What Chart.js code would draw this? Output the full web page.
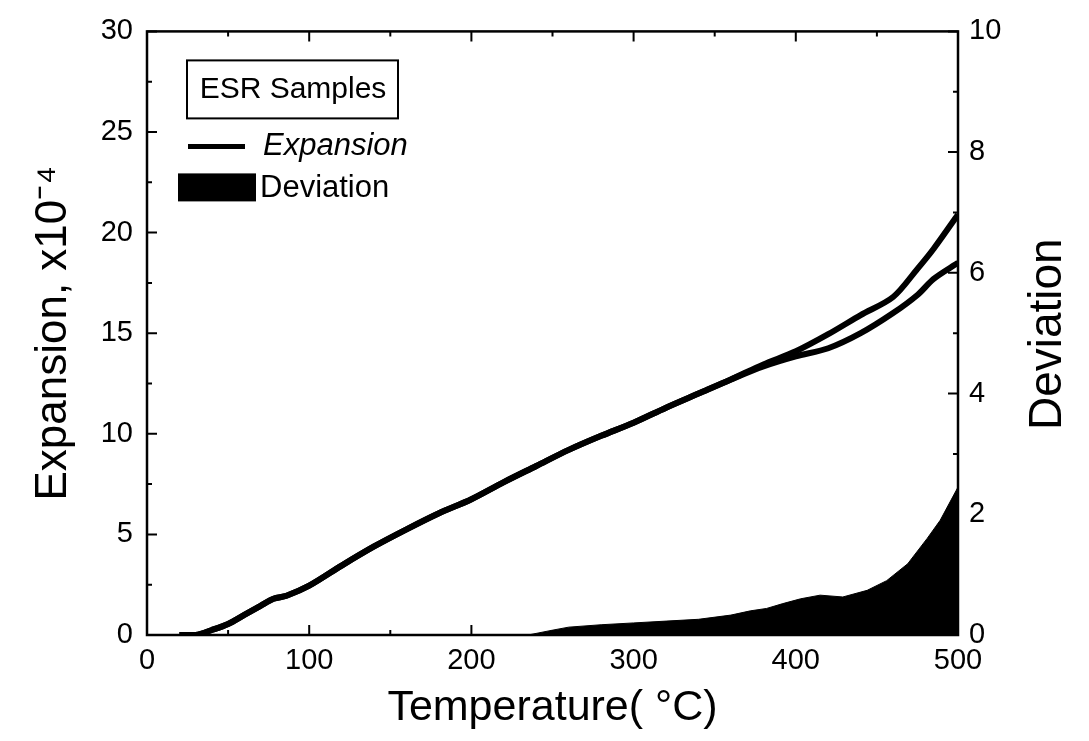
<!DOCTYPE html>
<html>
<head>
<meta charset="utf-8">
<script src="https://cdn.jsdelivr.net/npm/chart.js@4"></script>
<style>
  html, body { margin: 0; padding: 0; background: #fff; }
  #wrap { width: 1089px; height: 741px; }
</style>
</head>
<body>
<div id="wrap"><canvas id="grafico"></canvas></div>
<script>
// heating / cooling expansion curves (x10^-4) vs temperature
const tempSubida = [20, 30, 40, 50, 60, 70, 78, 86, 100, 120, 140, 160, 180, 200, 220, 240, 260, 280, 300, 320, 340, 360, 380, 400, 420, 440, 460, 475, 485, 500];
const expSubida = [0, 0, 0.25, 0.55, 1.0, 1.45, 1.8, 1.95, 2.45, 3.45, 4.4, 5.25, 6.05, 6.75, 7.6, 8.4, 9.2, 9.9, 10.55, 11.3, 12.0, 12.7, 13.45, 14.1, 14.95, 15.9, 16.8, 18.2, 19.2, 20.9];
const tempBajada = [20, 30, 40, 50, 60, 70, 78, 86, 100, 120, 140, 160, 180, 200, 220, 240, 260, 280, 300, 320, 340, 360, 380, 400, 420, 440, 460, 475, 485, 500];
const expBajada = [0, 0, 0.25, 0.55, 1.0, 1.45, 1.8, 1.95, 2.45, 3.45, 4.4, 5.25, 6.05, 6.75, 7.6, 8.4, 9.2, 9.9, 10.55, 11.3, 12.0, 12.7, 13.35, 13.85, 14.25, 15.0, 16.0, 16.9, 17.7, 18.5];

// deviation between the two curves (right axis)
const tempDesv = [235, 250, 260, 280, 300, 320, 340, 360, 372, 382, 392, 403, 415, 429, 444, 456, 469, 481, 489, 500];
const desv = [0, 0.08, 0.13, 0.17, 0.2, 0.23, 0.26, 0.33, 0.4, 0.44, 0.52, 0.6, 0.66, 0.63, 0.74, 0.9, 1.18, 1.6, 1.9, 2.45];

const ticksX = [0, 100, 200, 300, 400, 500];
const ticksY = [0, 5, 10, 15, 20, 25, 30];
const ticksY1 = [0, 2, 4, 6, 8, 10];

const pares = (xs, ys) => xs.map((x, i) => ({ x: x, y: ys[i] }));

const fuente = "'Liberation Sans', Arial, sans-serif";

// frame + inward major/minor ticks, like the original plot
const marcoPlugin = {
    id: "marco",
    afterDatasetsDraw(chart) {
        const ctx = chart.ctx;
        const a = chart.chartArea;
        const sx = chart.scales.x, sy = chart.scales.y, sy1 = chart.scales.y1;
        ctx.save();
        ctx.strokeStyle = "#000";
        ctx.lineWidth = 2.5;
        ctx.strokeRect(a.left, a.top, a.right - a.left, a.bottom - a.top);
        ctx.lineWidth = 2;
        ctx.beginPath();
        for (let v = 0; v <= 500; v += 50) {
            const px = sx.getPixelForValue(v);
            const l = v % 100 === 0 ? 10 : 5;
            ctx.moveTo(px, a.bottom); ctx.lineTo(px, a.bottom - l);
            ctx.moveTo(px, a.top); ctx.lineTo(px, a.top + l);
        }
        for (let v = 0; v <= 30; v += 2.5) {
            const py = sy.getPixelForValue(v);
            const l = v % 5 === 0 ? 10 : 5;
            ctx.moveTo(a.left, py); ctx.lineTo(a.left + l, py);
        }
        for (let v = 0; v <= 10; v += 1) {
            const py = sy1.getPixelForValue(v);
            const l = v % 2 === 0 ? 10 : 5;
            ctx.moveTo(a.right, py); ctx.lineTo(a.right - l, py);
        }
        ctx.stroke();

        // right axis title, reading bottom to top
        ctx.fillStyle = "#000";
        ctx.font = "46px " + fuente;
        ctx.textAlign = "center";
        ctx.textBaseline = "middle";
        ctx.translate(1048, (a.top + a.bottom) / 2 + 1);
        ctx.rotate(-Math.PI / 2);
        ctx.fillText("Deviation", 0, 0);
        ctx.restore();
    },
};

// legend box drawn inside the plot
const leyendaPlugin = {
    id: "leyenda",
    afterDraw(chart) {
        const ctx = chart.ctx;
        const a = chart.chartArea;
        const x0 = a.left, y0 = a.top;
        ctx.save();
        ctx.strokeStyle = "#000";
        ctx.fillStyle = "#000";
        ctx.lineWidth = 2;
        ctx.strokeRect(x0 + 40, y0 + 29, 211, 58);
        ctx.font = "30px " + fuente;
        ctx.textAlign = "center";
        ctx.textBaseline = "middle";
        ctx.fillText("ESR Samples", x0 + 146, y0 + 58);

        ctx.lineWidth = 5;
        ctx.beginPath();
        ctx.moveTo(x0 + 41, y0 + 115);
        ctx.lineTo(x0 + 98, y0 + 115);
        ctx.stroke();
        ctx.textAlign = "left";
        ctx.font = "italic 31px " + fuente;
        ctx.fillText("Expansion", x0 + 116, y0 + 115);

        ctx.fillRect(x0 + 31, y0 + 142, 78, 28);
        ctx.font = "31px " + fuente;
        ctx.fillText("Deviation", x0 + 113, y0 + 157);
        ctx.restore();
    },
};

const dataGrafico = {
    datasets: [
        {
            label: "Expansion",
            data: pares(tempSubida, expSubida),
            borderColor: "#000",
            borderWidth: 6,
            pointRadius: 0,
            tension: 0.3,
            yAxisID: "y",
        },
        {
            label: "Expansion (cooling)",
            data: pares(tempBajada, expBajada),
            borderColor: "#000",
            borderWidth: 6,
            pointRadius: 0,
            tension: 0.3,
            yAxisID: "y",
        },
        {
            label: "Deviation",
            data: pares(tempDesv, desv),
            borderColor: "#000",
            backgroundColor: "#000",
            borderWidth: 1,
            pointRadius: 0,
            fill: "origin",
            yAxisID: "y1",
        },
    ],
};

const configGrafico = {
    type: "line",
    data: dataGrafico,
    options: {
        responsive: false,
        animation: false,
        layout: { padding: { top: 28, left: 0, right: 0, bottom: 0 } },
        plugins: {
            legend: { display: false },
            tooltip: { enabled: false },
        },
        scales: {
            x: {
                type: "linear",
                min: 0,
                max: 500,
                afterBuildTicks: (s) => { s.ticks = ticksX.map((v) => ({ value: v })); },
                afterFit: (s) => { s.height = 106; },
                grid: { display: false, drawTicks: false },
                border: { display: false },
                ticks: { color: "#000", padding: 9, font: { family: fuente, size: 29 } },
                title: {
                    display: true,
                    text: "Temperature( °C)",
                    color: "#000",
                    padding: { top: 0, bottom: 7 },
                    font: { family: fuente, size: 43 },
                },
            },
            y: {
                position: "left",
                min: 0,
                max: 30,
                afterBuildTicks: (s) => { s.ticks = ticksY.map((v) => ({ value: v })); },
                afterFit: (s) => { s.width = 147; },
                grid: { display: false, drawTicks: false },
                border: { display: false },
                ticks: { color: "#000", padding: 14, font: { family: fuente, size: 29 } },
                title: {
                    display: true,
                    text: "Expansion, x10⁻⁴",
                    color: "#000",
                    padding: { top: 27, bottom: 0 },
                    font: { family: fuente, size: 44 },
                },
            },
            y1: {
                position: "right",
                min: 0,
                max: 10,
                afterBuildTicks: (s) => { s.ticks = ticksY1.map((v) => ({ value: v })); },
                afterFit: (s) => { s.width = 131; },
                grid: { display: false, drawTicks: false },
                border: { display: false },
                ticks: { color: "#000", padding: 11, font: { family: fuente, size: 29 } },
            },
        },
    },
    plugins: [marcoPlugin, leyendaPlugin],
};

const canvas = document.getElementById("grafico");
canvas.width = 1089;
canvas.height = 741;
const grafico = new Chart(canvas, configGrafico);
</script>
</body>
</html>
